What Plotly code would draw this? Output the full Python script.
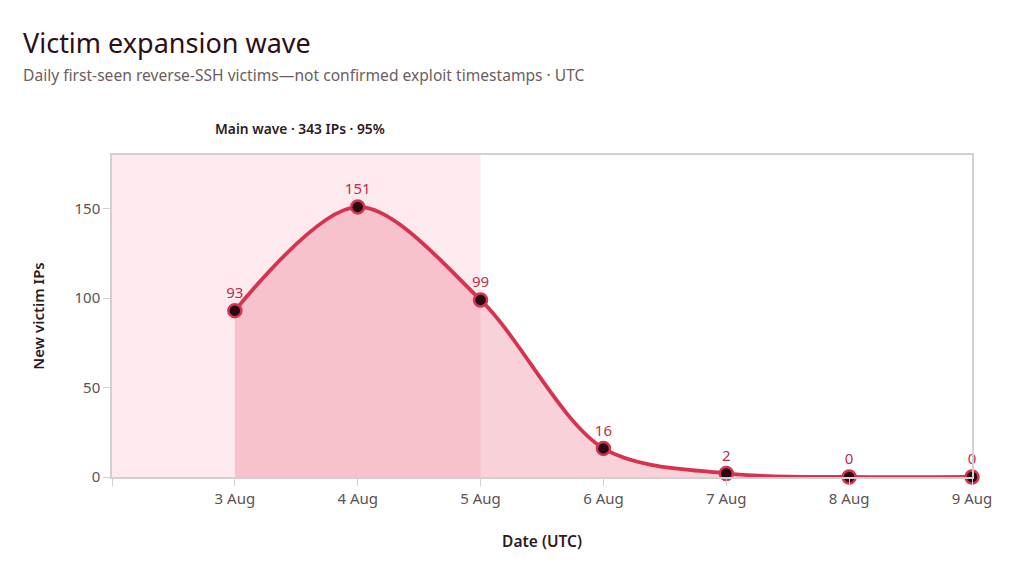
import plotly.graph_objects as go

# Daily first-seen victims
dates = ["2025-08-03", "2025-08-04", "2025-08-05", "2025-08-06",
         "2025-08-07", "2025-08-08", "2025-08-09"]
new_victims = [93, 151, 99, 16, 2, 0, 0]

tick_dates = ["2025-08-02"] + dates
tick_labels = [""] + ["3 Aug", "4 Aug", "5 Aug", "6 Aug", "7 Aug", "8 Aug", "9 Aug"]

wave_start = "2025-08-02"
wave_end = "2025-08-05"
wave_label = "Main wave · 343 IPs · 95%"

RED = "#d6334f"
FONT = "Noto Sans"

# page puts the figure 8px in from the corner, so work in figure pixels
OFF = 8
W, H = 1024 - OFF, 581 - OFF
L, R, T, B = 112 - OFF, 1024 - 972, 155 - OFF, 581 - 477
pw, ph = W - L - R, H - T - B

fig = go.Figure()

fig.add_trace(go.Scatter(
    x=dates,
    y=new_victims,
    mode="lines+markers+text",
    line=dict(color=RED, width=3.8, shape="spline", smoothing=0.9),
    fill="tozeroy",
    fillcolor="rgba(232,90,120,0.28)",
    marker=dict(size=13, color="#2a0a12", line=dict(color=RED, width=2.5)),
    text=[str(v) for v in new_victims],
    textposition="top center",
    textfont=dict(family=FONT, size=15, color="#c22d4b"),
    cliponaxis=False,
    hoverinfo="x+y",
    showlegend=False,
))

fig.add_shape(
    type="rect", xref="x", yref="paper",
    x0=wave_start, x1=wave_end, y0=0, y1=1,
    fillcolor="#fdeaee", line=dict(width=0), layer="below",
)

def px_x(p):
    return (p - OFF - L) / pw

def px_y(p):
    return (H - B - (p - OFF)) / ph

fig.add_annotation(
    text="Victim expansion wave", xref="paper", yref="paper",
    x=px_x(21), y=px_y(42), xanchor="left", yanchor="middle", showarrow=False,
    font=dict(family=FONT, size=27, color="#2d0f18"),
)
fig.add_annotation(
    text="Daily first-seen reverse-SSH victims—not confirmed exploit timestamps · UTC",
    xref="paper", yref="paper",
    x=px_x(21), y=px_y(75), xanchor="left", yanchor="middle", showarrow=False,
    font=dict(family=FONT, size=15.6, color="#6e5c61"),
)
fig.add_annotation(
    text=wave_label, xref="paper", yref="paper",
    x=px_x(300), y=px_y(128), xanchor="center", yanchor="middle", showarrow=False,
    font=dict(family=FONT, size=13.8, color="#2d1a1f", weight=600),
)

fig.update_layout(
    width=W, height=H,
    margin=dict(l=L, r=R, t=T, b=B),
    paper_bgcolor="white",
    plot_bgcolor="white",
    font=dict(family=FONT, color="#5c5256"),
    xaxis=dict(
        range=[wave_start, dates[-1]],
        tickvals=tick_dates, ticktext=tick_labels,
        showgrid=False, zeroline=False,
        showline=True, linecolor="#d4cfd1", linewidth=1.5, mirror=True,
        ticks="outside", ticklen=7, tickcolor="#d4cfd1",
        tickfont=dict(family=FONT, size=15, color="#5c5256"),
        title=dict(text="Date (UTC)", standoff=29,
                   font=dict(family=FONT, size=15.5, color="#2d1a1f", weight=600)),
    ),
    yaxis=dict(
        range=[0, 180],
        tickvals=[0, 50, 100, 150],
        showgrid=False, zeroline=False,
        showline=True, linecolor="#d4cfd1", linewidth=1.5, mirror=True,
        ticks="outside", ticklen=7, tickcolor="#d4cfd1",
        tickfont=dict(family=FONT, size=15, color="#5c5256"),
        title=dict(text="New victim IPs", standoff=26,
                   font=dict(family=FONT, size=15, color="#2d1a1f", weight=600)),
    ),
)

fig.write_html("out.html")
